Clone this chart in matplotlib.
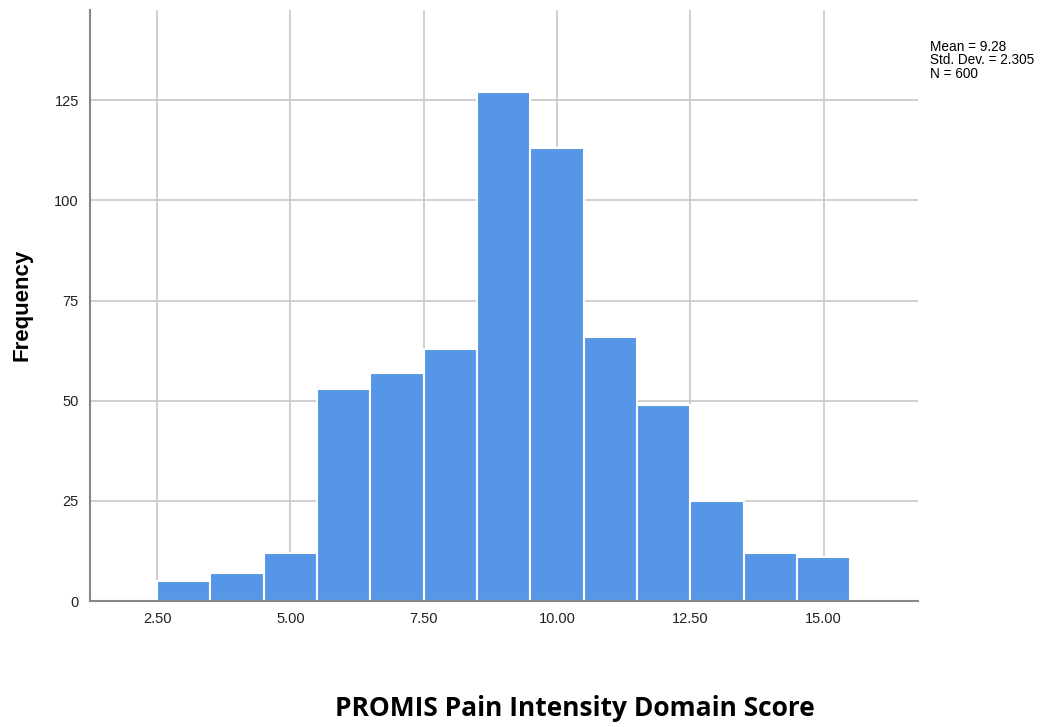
import numpy as np
from matplotlib import pyplot as plt

binEdges = [2.5, 3.5, 4.5, 5.5, 6.5, 7.5, 8.5, 9.5, 10.5, 11.5, 12.5, 13.5, 14.5, 15.5]
counts = [5, 7, 12, 53, 57, 63, 127, 113, 66, 49, 25, 12, 11]
xTicks = [2.5, 5.0, 7.5, 10.0, 12.5, 15.0]
yTicks = [0, 25, 50, 75, 100, 125]
statsText = "Mean = 9.28\nStd. Dev. = 2.305\nN = 600"

fig = plt.figure(figsize=(10.56, 7.27), dpi=100)
ax = fig.add_axes([0.0852, 0.1733, 0.7841, 0.8129])

lefts = np.array(binEdges[:-1])
widths = np.diff(binEdges)
ax.bar(lefts, counts, width=widths, align='edge', color='#5596e6',
       edgecolor='white', linewidth=1.5, zorder=2)

ax.set_xlim(1.24, 16.77)
ax.set_ylim(0, 147.5)
ax.set_xticks(xTicks)
ax.set_xticklabels([f"{t:.2f}" for t in xTicks])
ax.set_yticks(yTicks)
ax.tick_params(length=0, labelsize=10.5, colors='#222222', pad=8)
for lbl in ax.get_xticklabels() + ax.get_yticklabels():
    lbl.set_family('Liberation Sans')

ax.grid(True, color='#c8c8c8', linewidth=1.2, zorder=0)
ax.set_axisbelow(True)
for side in ['top', 'right']:
    ax.spines[side].set_visible(False)
for side in ['left', 'bottom']:
    ax.spines[side].set_color('#888888')
    ax.spines[side].set_linewidth(1.5)

fig.text(930 / 1056, 1 - 40 / 727, statsText, ha='left', va='top',
         fontsize=9.8, family='Liberation Sans', linespacing=0.95)
fig.text(22 / 1056, 1 - 305 / 727, 'Frequency', rotation=90, ha='center',
         va='center', fontsize=16, fontweight='bold', family='Liberation Sans')
fig.text(575 / 1056, 1 - 708 / 727, 'PROMIS Pain Intensity Domain Score',
         ha='center', va='center', fontsize=19, fontweight='bold', family='Open Sans')

fig.savefig('out.png', dpi=100)
